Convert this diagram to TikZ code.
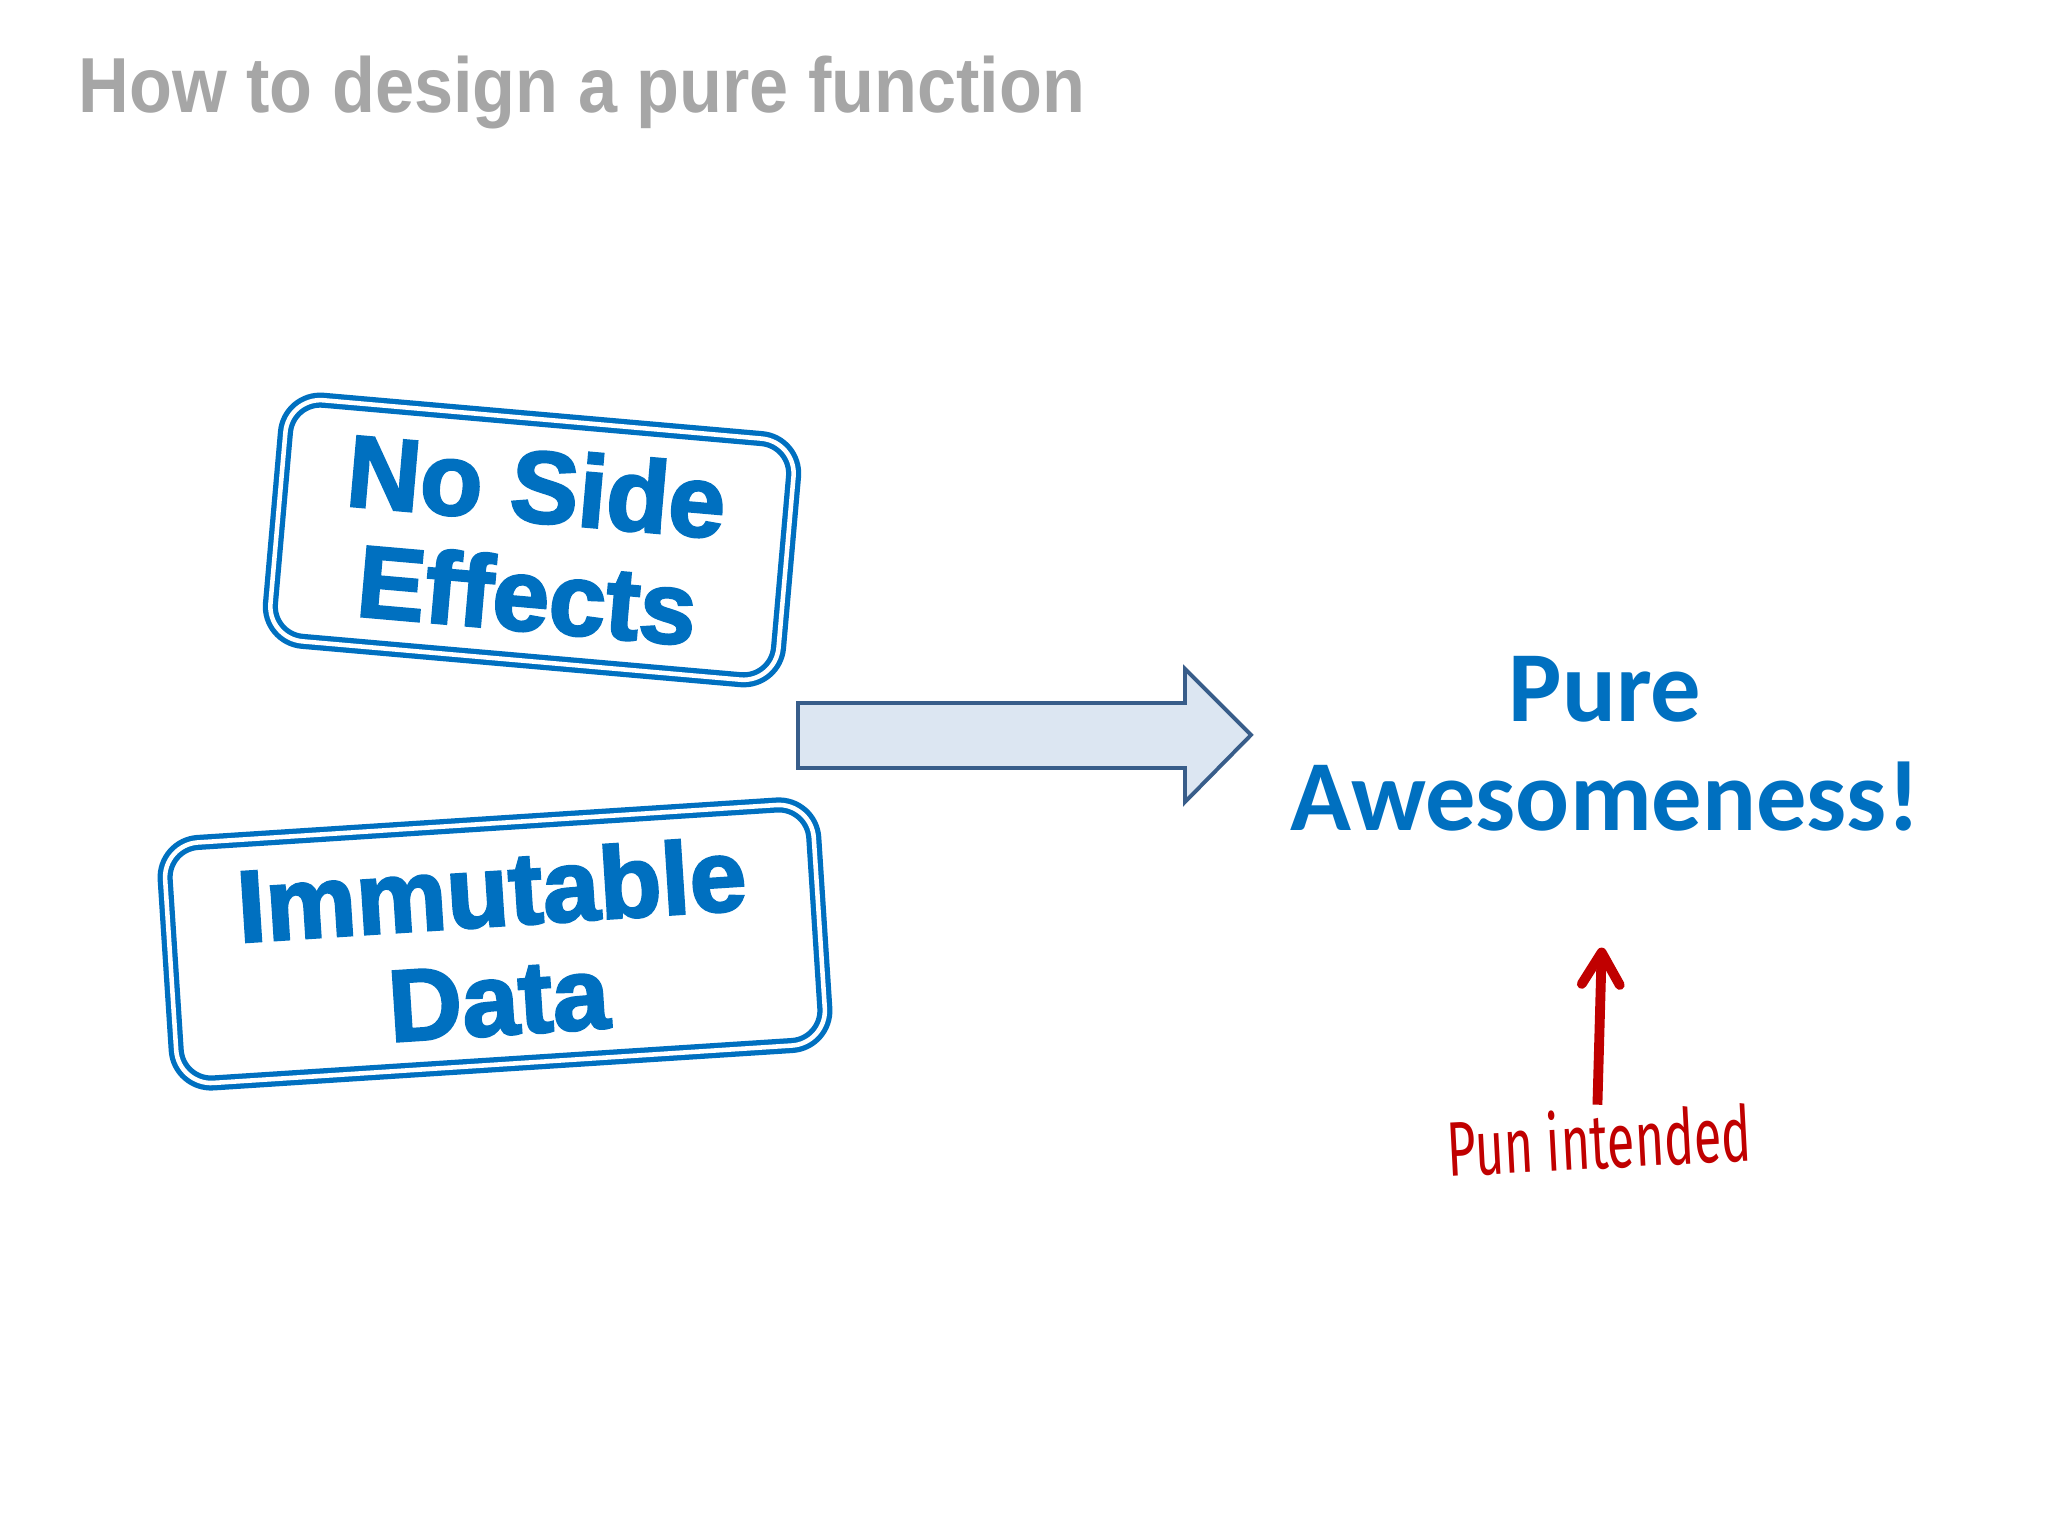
\documentclass[tikz,border=0pt]{standalone}
\usepackage{fontspec}
\usepackage{xcolor}
\usepackage{tikz}
\usetikzlibrary{arrows.meta,positioning}
\setmainfont{Liberation Sans}
\newfontfamily\titlefont[FakeStretch=0.9]{Liberation Sans Bold}
\newfontfamily\stampfont[FakeBold=2.5]{Liberation Sans Bold}
\newfontfamily\awefont{Carlito}
\newfontfamily\punfont[FakeStretch=0.65]{Fira Sans}
\definecolor{PFBlue}{HTML}{0070C0}
\definecolor{PFGray}{HTML}{A6A6A6}
\definecolor{PFRed}{HTML}{C00000}
\definecolor{PFArrowFill}{HTML}{DCE6F2}
\definecolor{PFArrowLine}{HTML}{385D8A}
\begin{document}
\begin{tikzpicture}[
  stampbox/.style={draw=PFBlue, line width=1.5pt, double=white, double distance=1.3pt,
    rounded corners=0.35cm, align=center, text=PFBlue, inner sep=0pt,
    font=\stampfont\fontsize{29}{31}\selectfont}]
\useasboundingbox[fill=white] (0,0) rectangle (20.48,15.36);
\node[anchor=base west, inner sep=0pt, text=PFGray, font=\titlefont\fontsize{22.2}{24}\selectfont]
  (title) at (0.78,14.23) {How to design a pure function};

% the two stamps
\node[stampbox, rotate=-5, minimum width=5.10cm, minimum height=2.42cm] (noside) at (5.32,9.96)
  {No Side\\Effects};
\node[stampbox, rotate=3.7, minimum width=6.50cm, minimum height=2.41cm] (immutable) at (4.95,5.92)
  {Immutable\\Data};

% block arrow
\draw[draw=PFArrowLine, fill=PFArrowFill, line width=1.1pt, line join=miter]
  (7.98,8.33) -- (11.85,8.33) -- (11.85,8.67) -- (12.51,8.01) -- (11.85,7.34)
  -- (11.85,7.68) -- (7.98,7.68) -- cycle;

\node[inner sep=0pt, align=center, text=PFBlue, font=\awefont\bfseries\fontsize{28.6}{31}\selectfont]
  (awesome) at (16.05,7.925) {Pure\\Awesomeness!};

\node[inner sep=0pt, rotate=3, text=PFRed, font=\punfont\fontsize{22}{24}\selectfont]
  (pun) at (15.99,3.97) {Pun intended};
\draw[PFRed, line width=2.8pt, shorten <=0.03cm, shorten >=1.16cm,
  -{Straight Barb[length=3.2mm, width=3.8mm, round]}] (pun.north) -- (awesome.south);
\end{tikzpicture}
\end{document}
